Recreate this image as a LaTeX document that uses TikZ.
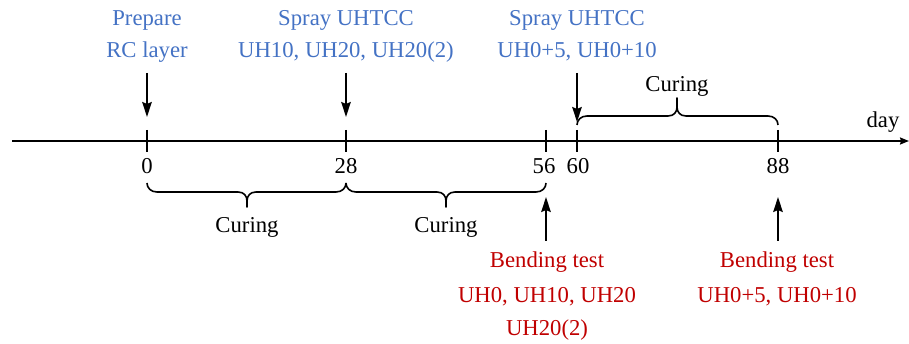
\documentclass[tikz,border=0pt]{standalone}
\usepackage{fontspec}
\setmainfont{Liberation Serif}
\usetikzlibrary{arrows.meta}
\definecolor{evblue}{RGB}{68,114,196}
\definecolor{evred}{RGB}{192,0,0}
\begin{document}
\begin{tikzpicture}[x=1pt,y=-1pt,
  txt/.style={font=\fontsize{22.7}{27}\selectfont, inner sep=0pt, anchor=base},
  bluetxt/.style={txt, text=evblue},
  redtxt/.style={txt, text=evred},
  evarrow/.style={line width=1.8pt, -{Stealth[length=15pt,width=9.5pt,inset=2pt]}},
  tickmark/.style={line width=1.6pt},
  bracepath/.style={line width=1.6pt, line join=round}]
\useasboundingbox (0,0) rectangle (909,344);
% axis
\coordinate (axs) at (12,141);
\coordinate (axe) at (909,141);
\draw[line width=1.8pt, -{Stealth[length=9pt,width=7pt,inset=1pt]}] (axs) -- (axe);
\node[txt] (day) at (883,128) {day};
% ticks
\foreach \x/\n in {147/0,346/28,546/56,577/60,778/88}{
  \coordinate (ta\n) at (\x,130);
  \coordinate (tb\n) at (\x,152);
  \draw[tickmark] (ta\n) -- (tb\n);
}
\node[txt] (l0) at (147,174) {0};
\node[txt] (l28) at (346,174) {28};
\node[txt] (l56) at (544,174) {56};
\node[txt] (l60) at (578,174) {60};
\node[txt] (l88) at (778,174) {88};
% blue labels
\node[bluetxt] (p1) at (147,26) {Prepare};
\node[bluetxt] (p2) at (147,58) {RC layer};
\node[bluetxt] (s1) at (346,26) {Spray UHTCC};
\node[bluetxt] (s2) at (346,58) {UH10, UH20, UH20(2)};
\node[bluetxt] (r1) at (577,26) {Spray UHTCC};
\node[bluetxt] (r2) at (577,58) {UH0+5, UH0+10};
% down arrows
\coordinate (d0a) at (147,73); \coordinate (d0b) at (147,117);
\coordinate (d28a) at (346,73); \coordinate (d28b) at (346,117);
\coordinate (d60a) at (577,73); \coordinate (d60b) at (577,122);
\draw[evarrow] (d0a) -- (d0b);
\draw[evarrow] (d28a) -- (d28b);
\draw[evarrow] (d60a) -- (d60b);
% top brace
\draw[bracepath] (577,125) .. controls (577,120) and (581,116) .. (587,116) -- (668,116)
  .. controls (674,116) and (677,112) .. (677,107) -- (677,98) -- (677,107)
  .. controls (677,112) and (680,116) .. (686,116)
  -- (768,116) .. controls (774,116) and (778,120) .. (778,125);
\node[txt] (c3) at (677,92) {Curing};
% bottom braces
\draw[bracepath] (147,183) .. controls (147,188) and (151,192) .. (157,192) -- (238,192)
  .. controls (244,192) and (247,196) .. (247,201) -- (247,207) -- (247,201)
  .. controls (247,196) and (250,192) .. (256,192)
  -- (336,192) .. controls (342,192) and (346,188) .. (346,183);
\draw[bracepath] (346,183) .. controls (346,188) and (350,192) .. (356,192) -- (437,192)
  .. controls (443,192) and (446,196) .. (446,201) -- (446,207) -- (446,201)
  .. controls (446,196) and (449,192) .. (455,192)
  -- (536,192) .. controls (542,192) and (546,188) .. (546,183);
\node[txt] (c1) at (247,233) {Curing};
\node[txt] (c2) at (446,233) {Curing};
% up arrows
\coordinate (u56a) at (546,241); \coordinate (u56b) at (546,197);
\coordinate (u88a) at (778,241); \coordinate (u88b) at (778,197);
\draw[evarrow] (u56a) -- (u56b);
\draw[evarrow] (u88a) -- (u88b);
% red labels
\node[redtxt] (b1) at (547,268) {Bending test};
\node[redtxt] (b2) at (547,302) {UH0, UH10, UH20};
\node[redtxt] (b3) at (547,335) {UH20(2)};
\node[redtxt] (e1) at (777,268) {Bending test};
\node[redtxt] (e2) at (777,302) {UH0+5, UH0+10};
\end{tikzpicture}
\end{document}
